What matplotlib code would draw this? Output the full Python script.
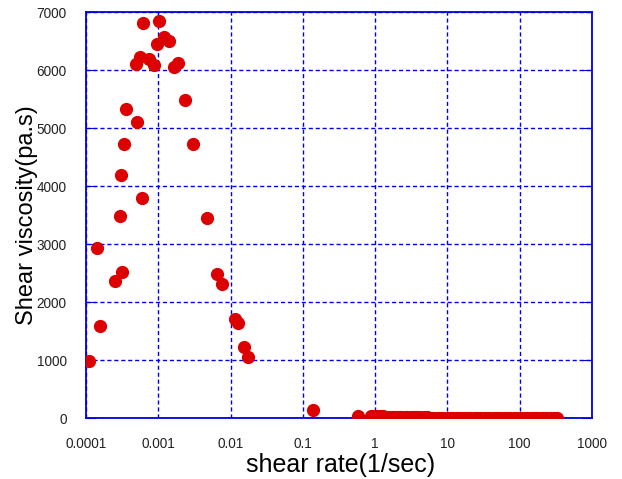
import numpy as np
import matplotlib.pyplot as plt
from matplotlib.ticker import FixedLocator, FixedFormatter

plt.rcParams['font.family'] = ['Liberation Sans', 'DejaVu Sans']

# shear rate (1/s) and viscosity (Pa.s), low-rate region
rate_low = [0.00011, 0.000141, 0.000156, 0.000252, 0.000295, 0.000305, 0.000318,
            0.000332, 0.000354, 0.000497, 0.000507, 0.000558, 0.000595, 0.000608,
            0.000751, 0.00088, 0.00095, 0.00102, 0.0012, 0.00141, 0.00163, 0.00187,
            0.00232, 0.00302, 0.00476, 0.00649, 0.0076, 0.0114, 0.01265, 0.0153,
            0.0174, 0.139, 0.578]
visc_low = [977, 2926, 1586, 2367, 3488, 4195, 2512,
            4724, 5328, 6103, 5109, 6218, 3788, 6816,
            6184, 6086, 6443, 6845, 6574, 6500, 6046, 6126,
            5477, 4724, 3448, 2477, 2305, 1712, 1633, 1219,
            1046, 138, 34]

# high-rate sweep, viscosity close to zero
rate_high = [0.87, 0.95, 1.0, 1.1, 1.2, 1.3, 1.45, 1.6, 1.75, 1.9, 2.1, 2.3, 2.55,
             2.8, 3.1, 3.4, 3.8, 4.2, 4.7, 5.2, 5.8, 6.4, 7.1, 7.9, 8.8, 9.8, 10.9,
             12.1, 13.5, 15.0, 16.7, 18.6, 20.7, 23.0, 25.6, 28.5, 31.7, 35.3, 39.3,
             43.7, 48.6, 54.1, 60.2, 67.0, 74.5, 82.9, 92.2, 103, 114, 127, 141, 157,
             175, 195, 217, 241, 268, 298, 330]
visc_high = [32, 30, 29, 28, 27, 26, 25, 24, 23, 22, 21, 20, 19,
             18, 16, 14, 12, 11, 10, 9, 8, 7, 7, 6, 6, 5, 5,
             5, 4, 4, 4, 3, 3, 3, 3, 2, 2, 2, 2,
             2, 2, 2, 1, 1, 1, 1, 1, 1, 1, 1, 1, 1,
             1, 1, 1, 1, 1, 1, 1]

fig = plt.figure(figsize=(6.22, 4.79), dpi=100)
ax = fig.add_axes([86 / 622, 61 / 479, 506 / 622, 406 / 479])

red = '#dd0000'
ax.plot(rate_low, visc_low, 'o', color=red, markersize=8.5, zorder=3)
ax.plot(rate_high, visc_high, 'o', color=red, markersize=8.5, zorder=3)

ax.set_xscale('log')
ax.set_xlim(1e-4, 1e3)
ax.set_ylim(0, 7000)

xt = [1e-4, 1e-3, 1e-2, 1e-1, 1, 10, 100, 1000]
xl = ['0.0001', '0.001', '0.01', '0.1', '1', '10', '100', '1000']
ax.xaxis.set_major_locator(FixedLocator(xt))
ax.xaxis.set_major_formatter(FixedFormatter(xl))
ax.xaxis.set_minor_locator(FixedLocator([]))
ax.set_yticks(np.arange(0, 7001, 1000))

ax.grid(True, color='#0000ee', linestyle=(0, (3, 2)), linewidth=1.0)
for s in ax.spines.values():
    s.set_color('#0000dd')
    s.set_linewidth(1.3)

ax.tick_params(axis='both', direction='in', colors='#0000dd', length=7,
               labelcolor='#222222', labelsize=9.8, right=True, top=False)
ax.tick_params(axis='x', pad=14, length=0)
ax.tick_params(axis='y', pad=14)

ax.set_xlabel('shear rate(1/sec)', fontsize=18)
ax.set_ylabel('Shear viscosity(pa.s)', fontsize=17)
ax.xaxis.set_label_coords(0.504, -0.085)
ax.yaxis.set_label_coords(-0.094, 0.5)

fig.savefig('out.png', dpi=100)
